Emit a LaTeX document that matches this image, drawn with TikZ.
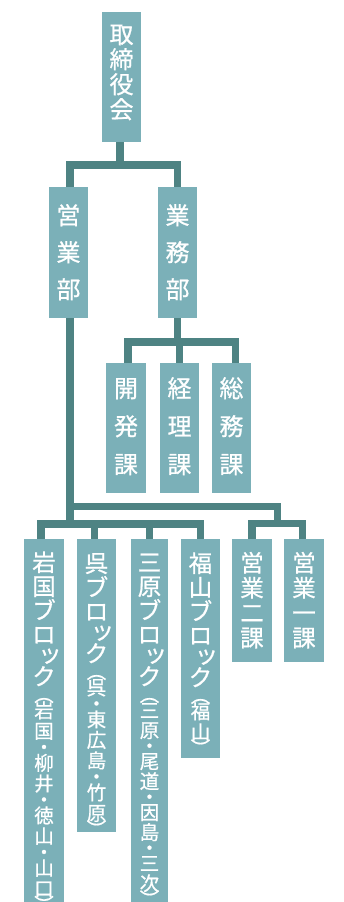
\documentclass[tikz,border=0pt]{standalone}
\usepackage{fontspec}
\newfontfamily\cjk[RawFeature={embolden=0.7}]{Noto Sans CJK JP}
\definecolor{boxfill}{RGB}{123,176,184}
\definecolor{linec}{RGB}{78,131,131}
% one vertical-text cell: #1 font size, #2 cell height, #3 glyph, #4 x shift
\newcommand\gcellx[4]{\hbox to 0pt{\hss\kern#4pt\kern#4pt\fontsize{#1pt}{#1pt}\selectfont\raisebox{\dimexpr #2pt/2-#1pt/2+#1pt*12/100\relax}[#2pt][0pt]{#3}\hss}}
\newcommand\gcell[3]{\gcellx{#1}{#2}{#3}{0}}
% rotated bracket cell (vertical form): #1 font size, #2 cell height, #3 glyph
\newcommand\gcellr[3]{\hbox to 0pt{\hss\fontsize{#1pt}{#1pt}\selectfont\raisebox{\dimexpr #2pt/2+#1pt/2\relax}[#2pt][0pt]{\rotatebox{-90}{#3}}\hss}}
% column: #1 height, #2 top kern, #3 cells
\newcommand\vcol[3]{\vbox to #1pt{\offinterlineskip\kern#2pt #3\vss}}
\newcommand\gB[1]{\gcell{24}{25}{#1}}
\newcommand\gW[1]{\gcell{24}{37}{#1}}
\newcommand\gX[1]{\gcell{24}{38}{#1}}
\newcommand\gM[1]{\gcell{23.5}{24}{#1}}
\newcommand\gE[1]{\gcell{23.5}{25}{#1}}
\newcommand\gS[1]{\gcell{19.5}{20.5}{#1}}
\newcommand\gSn[1]{\gcell{19.5}{20}{#1}}
\newcommand\gT{\gcellx{23.5}{18}{\raisebox{2pt}{ッ}}{6}}
\newcommand\gD{\gcell{19.5}{11.5}{・}}
\newcommand\gDn{\gcell{19.5}{11}{・}}
\newcommand\gO{\gcellr{19.5}{12}{（}}
\newcommand\gC{\gcellr{19.5}{12}{）}}
\tikzset{
  orgbox/.style={fill=boxfill, inner sep=0pt, minimum width=39pt, anchor=north, text=white, font=\cjk},
  conn/.style={draw=linec, line width=7.5pt}
}
\begin{document}
\begin{tikzpicture}[x=1pt,y=-1pt]
\useasboundingbox (0,0) rectangle (344,902);
% level 0
\node[orgbox] (top) at (121.5,12) {\vcol{130}{9.5}{\gB{取}\gB{締}\gB{役}\gB{会}}};
% level 1
\node[orgbox] (eig) at (68.5,187) {\vcol{131}{9.5}{\gW{営}\gW{業}\gW{部}}};
\node[orgbox] (gyo) at (177.5,187) {\vcol{131}{9.5}{\gW{業}\gW{務}\gW{部}}};
% level 2 under gyomu
\node[orgbox, minimum width=40pt] (kai) at (126,363) {\vcol{130}{6}{\gX{開}\gX{発}\gX{課}}};
\node[orgbox] (kei) at (179.5,363) {\vcol{130}{6}{\gX{経}\gX{理}\gX{課}}};
\node[orgbox] (so) at (231.5,363) {\vcol{130}{6}{\gX{総}\gX{務}\gX{課}}};
% level 2 under eigyo
\node[orgbox, minimum width=40pt] (iw) at (44,539) {\vcol{363}{11}{\gM{岩}\gM{国}\gM{ブ}\gM{ロ}\gT\gM{ク}\gO\gS{岩}\gS{国}\gD\gS{柳}\gS{井}\gD\gS{徳}\gS{山}\gD\gS{山}\gS{口}\gC}};
\node[orgbox] (kure) at (96.5,539) {\vcol{293}{12}{\gM{呉}\gM{ブ}\gM{ロ}\gT\gM{ク}\gO\gS{呉}\gD\gS{東}\gS{広}\gS{島}\gD\gS{竹}\gS{原}\gC}};
\node[orgbox, minimum width=37pt] (mi) at (149.5,539) {\vcol{363}{11}{\gM{三}\gM{原}\gM{ブ}\gM{ロ}\gT\gM{ク}\gO\gSn{三}\gSn{原}\gDn\gSn{尾}\gSn{道}\gDn\gSn{因}\gSn{島}\gDn\gSn{三}\gSn{次}\gC}};
\node[orgbox] (fk) at (200.5,539) {\vcol{219}{12}{\gM{福}\gM{山}\gM{ブ}\gM{ロ}\gT\gM{ク}\gO\gS{福}\gS{山}\gC}};
\node[orgbox, minimum width=40pt] (e2) at (252,539) {\vcol{123}{11}{\gE{営}\gE{業}\gE{二}\gE{課}}};
\node[orgbox, minimum width=40pt] (e1) at (304,539) {\vcol{123}{11}{\gE{営}\gE{業}\gE{一}\gE{課}}};
% connectors level 0 -> 1
\draw[conn] ([xshift=-1.5pt]top.south) -- ++(0,22.5) -| ([xshift=1.5pt]eig.north);
\draw[conn] ([xshift=-1.5pt]top.south) -- ++(0,22.5) -| (gyo.north);
% gyomu -> ka
\draw[conn] (gyo.south) -- ++(0,23.5) -| ([xshift=2pt]kai.north);
\draw[conn] (gyo.south) -- ++(0,23.5) -| (kei.north);
\draw[conn] (gyo.south) -- ++(0,23.5) -| ([xshift=4pt]so.north);
% eigyo -> blocks and sections
\path ([xshift=1.5pt]eig.south) ++(0,188) coordinate (jM) ++(0,17.5) coordinate (jL);
\coordinate (jR) at (277.5,523.5);
\draw[conn] ([xshift=1.5pt]eig.south) -- (jL);
\draw[conn] (jL) -| ([xshift=-3pt]iw.north);
\draw[conn] (jL) -| ([xshift=-2pt]kure.north);
\draw[conn] (jL) -| (mi.north);
\draw[conn] (jL) -| (fk.north);
\draw[conn] (jM) -| (jR);
\draw[conn] (jR) -| (e2.north);
\draw[conn] (jR) -| ([xshift=-1.5pt]e1.north);
\end{tikzpicture}
\end{document}
